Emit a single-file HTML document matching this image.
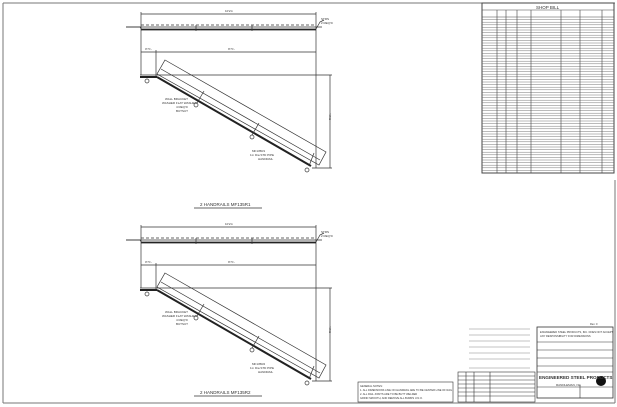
<!DOCTYPE html>
<html><head><meta charset="utf-8"><style>
html,body{margin:0;padding:0;background:#fff}
svg{display:block}
text{font-family:"Liberation Sans",sans-serif;fill:#333}
</style></head><body>
<svg width="617" height="407" viewBox="0 0 617 407" xmlns="http://www.w3.org/2000/svg">
<rect width="617" height="407" fill="#fff"/>
<g stroke="#777" fill="none" stroke-width="1">
<line x1="3" y1="3" x2="615" y2="3"/>
<line x1="3" y1="3" x2="3" y2="403"/>
<line x1="3" y1="403" x2="615" y2="403"/>
<line x1="615" y1="180" x2="615" y2="403"/>
</g>

<g stroke="#333" fill="none" stroke-width="0.7">
<line x1="141" y1="14" x2="316" y2="14"/>
<line x1="141" y1="12" x2="141" y2="75"/>
<line x1="316" y1="12" x2="316" y2="168"/>
<line x1="126" y1="27" x2="322" y2="27"/>
<line x1="141" y1="29.5" x2="316" y2="29.5" stroke-width="1.8" stroke="#222"/>
<line x1="141" y1="25" x2="316" y2="25" stroke-dasharray="3,2"/>
<path d="M126 27 L140 27 L142 30 M316 29 L320 22 L324 20"/>
<line x1="196" y1="25" x2="196" y2="31"/><line x1="252" y1="25" x2="252" y2="31"/>
<line x1="141" y1="52" x2="316" y2="52"/>
<line x1="156" y1="50" x2="156" y2="76"/>
<line x1="140" y1="75" x2="332" y2="75"/>
<line x1="140" y1="77" x2="157" y2="77" stroke-width="2" stroke="#222"/>
<line x1="330" y1="75" x2="330" y2="168"/>
<line x1="312" y1="168" x2="332" y2="168"/>
<polygon points="165,60 326,152 319,165 157,74"/>
<line x1="157" y1="77" x2="311" y2="166" stroke-width="2" stroke="#222"/>
<line x1="161" y1="69" x2="320" y2="160"/>
<line x1="204" y1="91" x2="197" y2="103"/>
<line x1="259" y1="123" x2="252" y2="135"/>
<line x1="314" y1="153" x2="309" y2="166"/>
<circle cx="147" cy="81" r="2"/><circle cx="196" cy="105" r="2"/><circle cx="252" cy="137" r="2"/><circle cx="307" cy="170" r="2"/>
</g>
<g font-size="3">
<text x="225" y="12">10'2¾</text>
<text x="228" y="50">9'7¾</text>
<text x="145" y="50">0'7¾</text>
<text x="165" y="100">WALL BRACKET</text><text x="162" y="104">WASHER FLAT WASHER</text><text x="176" y="108">4 REQ'D</text><text x="176" y="112">BUTSUT</text>
<text x="252" y="152">MF135R1</text><text x="250" y="156">1¼ Dia STD PIPE</text><text x="258" y="160">HANDRAIL</text>
<text x="321" y="20">STRS</text><text x="321" y="24">2 REQ'D</text>
<text x="331" y="120" transform="rotate(-90 331 120)">5'1¾</text>
</g>
<text x="200" y="206" font-size="4.5">2 HANDRAILS MF135R1</text>
<line x1="194" y1="208" x2="262" y2="208" stroke="#333" stroke-width="0.8"/>

<g transform="translate(0,213)" stroke="#333" fill="none" stroke-width="0.7">
<line x1="141" y1="14" x2="316" y2="14"/>
<line x1="141" y1="12" x2="141" y2="75"/>
<line x1="316" y1="12" x2="316" y2="168"/>
<line x1="126" y1="27" x2="322" y2="27"/>
<line x1="141" y1="29.5" x2="316" y2="29.5" stroke-width="1.8" stroke="#222"/>
<line x1="141" y1="25" x2="316" y2="25" stroke-dasharray="3,2"/>
<path d="M126 27 L140 27 L142 30 M316 29 L320 22 L324 20"/>
<line x1="196" y1="25" x2="196" y2="31"/><line x1="252" y1="25" x2="252" y2="31"/>
<line x1="141" y1="52" x2="316" y2="52"/>
<line x1="156" y1="50" x2="156" y2="76"/>
<line x1="140" y1="75" x2="332" y2="75"/>
<line x1="140" y1="77" x2="157" y2="77" stroke-width="2" stroke="#222"/>
<line x1="330" y1="75" x2="330" y2="168"/>
<line x1="312" y1="168" x2="332" y2="168"/>
<polygon points="165,60 326,152 319,165 157,74"/>
<line x1="157" y1="77" x2="311" y2="166" stroke-width="2" stroke="#222"/>
<line x1="161" y1="69" x2="320" y2="160"/>
<line x1="204" y1="91" x2="197" y2="103"/>
<line x1="259" y1="123" x2="252" y2="135"/>
<line x1="314" y1="153" x2="309" y2="166"/>
<circle cx="147" cy="81" r="2"/><circle cx="196" cy="105" r="2"/><circle cx="252" cy="137" r="2"/><circle cx="307" cy="170" r="2"/>
</g>
<g font-size="3" transform="translate(0,213)">
<text x="225" y="12">10'2¾</text>
<text x="228" y="50">9'7¾</text>
<text x="145" y="50">0'7¾</text>
<text x="165" y="100">WALL BRACKET</text><text x="162" y="104">WASHER FLAT WASHER</text><text x="176" y="108">4 REQ'D</text><text x="176" y="112">BUTSUT</text>
<text x="252" y="152">MF135R2</text><text x="250" y="156">1¼ Dia STD PIPE</text><text x="258" y="160">HANDRAIL</text>
<text x="321" y="20">STRS</text><text x="321" y="24">2 REQ'D</text>
<text x="331" y="120" transform="rotate(-90 331 120)">5'1¾</text>
</g>
<text x="200" y="394" font-size="4.5">2 HANDRAILS MF135R2</text>
<line x1="194" y1="396" x2="262" y2="396" stroke="#333" stroke-width="0.8"/>

<g stroke="#444" fill="none" stroke-width="0.6">
<rect x="482" y="3" width="132" height="170" stroke-width="1"/>
<line x1="482" y1="10" x2="614" y2="10"/>
<line x1="482" y1="17" x2="614" y2="17"/>
<g stroke="#666" stroke-width="0.45">
<path d="M482 19.6H614M482 22.2H614M482 24.8H614M482 27.4H614M482 30H614M482 32.6H614M482 35.2H614M482 37.8H614M482 40.4H614M482 43H614M482 45.6H614M482 48.2H614M482 50.8H614M482 53.4H614M482 56H614M482 58.6H614M482 61.2H614M482 63.8H614M482 66.4H614M482 69H614M482 71.6H614M482 74.2H614M482 76.8H614M482 79.4H614M482 82H614M482 84.6H614M482 87.2H614M482 89.8H614M482 92.4H614M482 95H614M482 97.6H614M482 100.2H614M482 102.8H614M482 105.4H614M482 108H614M482 110.6H614M482 113.2H614M482 115.8H614M482 118.4H614M482 121H614M482 123.6H614M482 126.2H614M482 128.8H614M482 131.4H614M482 134H614M482 136.6H614M482 139.2H614M482 141.8H614M482 144.4H614M482 147H614M482 149.6H614M482 152.2H614M482 154.8H614M482 157.4H614M482 160H614M482 162.6H614M482 165.2H614M482 167.8H614M482 170.4H614"/>
</g>
<path d="M497 10V173M506 10V173M517 10V173M531 10V173M561 10V173M580 10V173M602 10V173"/>
</g>
<text x="536" y="9" font-size="4.5">SHOP BILL</text>

<g stroke="#333" fill="none" stroke-width="0.6">
<rect x="358" y="382" width="95" height="20"/>
<rect x="458" y="372" width="77" height="30"/>
<path d="M458 376H535M458 380H535M458 384H535M458 388H535M458 392H535M458 396H535M466 372V402M474 372V402M490 372V402"/>
<path d="M469 329H530M469 335H530M469 341H530M469 347H530M469 353H530M469 359H530M469 368H530" stroke="#888"/>
<rect x="537" y="327" width="76" height="71" stroke-width="0.8"/>
<path d="M537 342H613M537 350H613M537 358H613M537 366H613M537 372H613M537 387H613M580 385V398"/>
</g>
<circle cx="601" cy="381" r="5" fill="#111"/>
<g font-size="2.6">
<text x="360" y="387">GENERAL NOTES:</text>
<text x="360" y="391">1. ALL DIMENSIONS LINE ON HANDRAIL ARE TO BE CENTER LINE OF RAIL</text>
<text x="360" y="395">2. ALL RAIL JOINTS ARE TO BE BUTT WELDED</text>
<text x="360" y="399">GRIND SMOOTH, AND REMOVE ALL BURRS U.N.O.</text>
<text x="590" y="325">Rev: 0</text>
<text x="540" y="333">ENGINEERED STEEL PRODUCTS, INC. DOES NOT ACCEPT</text>
<text x="540" y="337">ANY RESPONSIBILITY FOR DIMENSIONS</text>
</g>
<text x="539" y="379" font-size="4.6" font-weight="bold" fill="#222">ENGINEERED STEEL PRODUCTS</text>
<text x="556" y="386" font-size="3">RANDLEMAN, NC</text>
</svg>
</body></html>
